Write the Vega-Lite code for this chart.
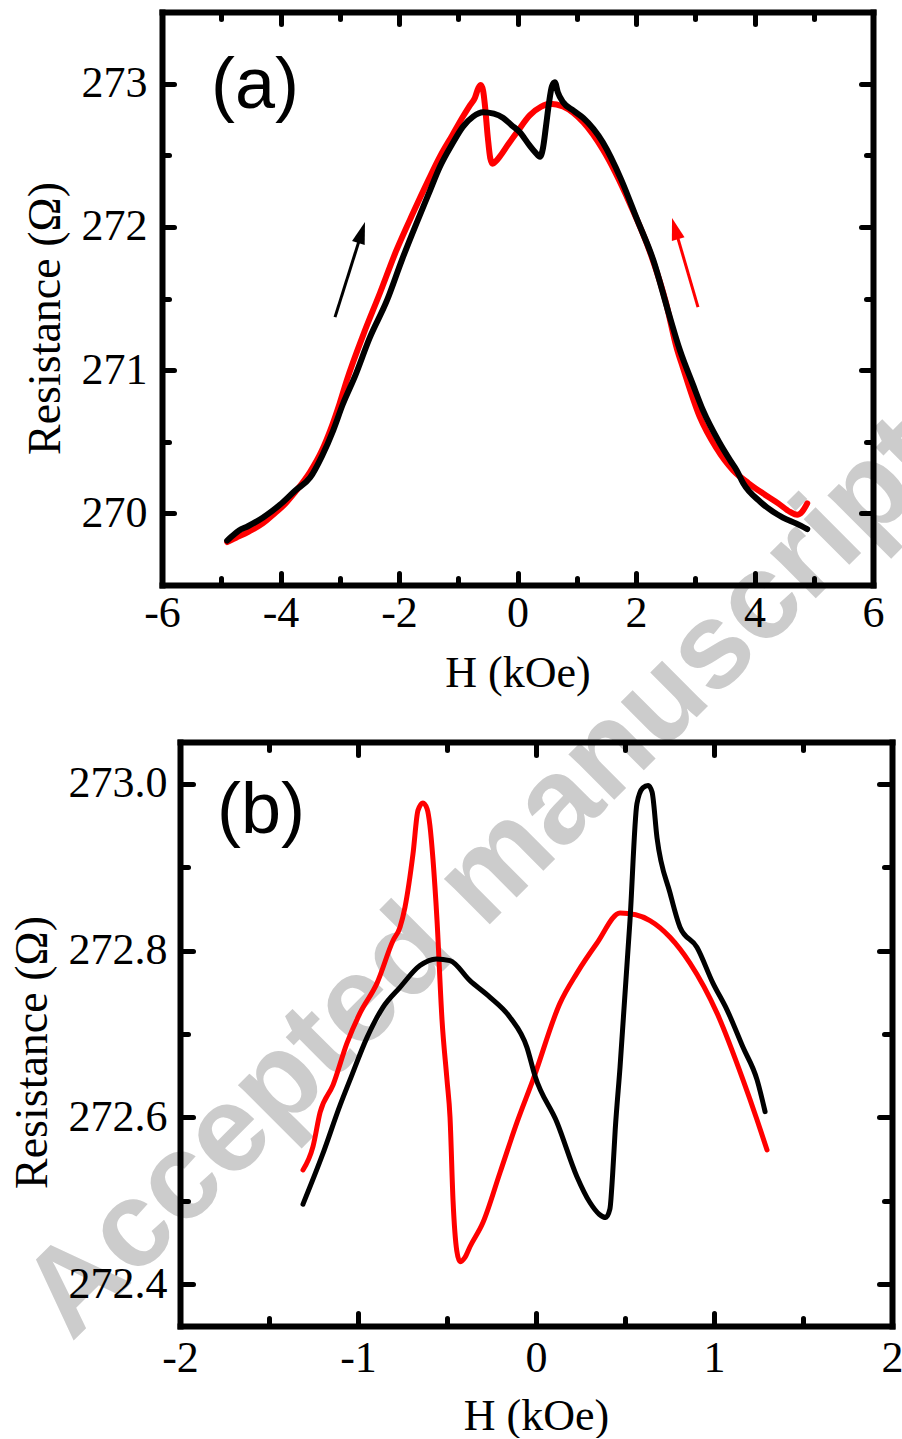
{
  "$schema": "https://vega.github.io/schema/vega-lite/v6.json",
  "background": "white",
  "padding": {"left": 2, "top": 9, "right": 0, "bottom": 0},
  "autosize": {"type": "pad"},
  "config": {
    "view": {"stroke": null},
    "axis": {
      "domainColor": "black", "domainWidth": 6, "domainCap": "square",
      "tickColor": "black", "tickWidth": 5, "tickCap": "round",
      "labelFont": "Liberation Serif", "labelFontSize": 44, "labelColor": "black",
      "titleFont": "Liberation Serif", "titleFontSize": 44, "titleFontWeight": "normal", "titleColor": "black",
      "grid": false, "labelFlush": false, "labelOverlap": false, "labelBound": false, "zindex": 1
    }
  },
  "datasets": {
    "panelA": [
      {"trace":"red","H":-4.90,"R":269.80},{"trace":"red","H":-4.75,"R":269.83},{"trace":"red","H":-4.55,"R":269.87},{"trace":"red","H":-4.30,"R":269.93},{"trace":"red","H":-4.10,"R":270.00},{"trace":"red","H":-3.96,"R":270.05},{"trace":"red","H":-3.75,"R":270.15},{"trace":"red","H":-3.50,"R":270.29},{"trace":"red","H":-3.30,"R":270.44},{"trace":"red","H":-3.16,"R":270.58},{"trace":"red","H":-3.00,"R":270.77},{"trace":"red","H":-2.88,"R":270.93},{"trace":"red","H":-2.60,"R":271.25},{"trace":"red","H":-2.32,"R":271.54},{"trace":"red","H":-2.05,"R":271.83},{"trace":"red","H":-1.76,"R":272.10},{"trace":"red","H":-1.50,"R":272.33},{"trace":"red","H":-1.31,"R":272.49},{"trace":"red","H":-1.10,"R":272.64},{"trace":"red","H":-0.92,"R":272.77},{"trace":"red","H":-0.80,"R":272.85},{"trace":"red","H":-0.72,"R":272.90},{"trace":"red","H":-0.66,"R":272.97},{"trace":"red","H":-0.62,"R":272.99},{"trace":"red","H":-0.58,"R":272.95},{"trace":"red","H":-0.55,"R":272.85},{"trace":"red","H":-0.50,"R":272.62},{"trace":"red","H":-0.46,"R":272.48},{"trace":"red","H":-0.42,"R":272.44},{"trace":"red","H":-0.36,"R":272.46},{"trace":"red","H":-0.30,"R":272.49},{"trace":"red","H":-0.15,"R":272.58},{"trace":"red","H":-0.01,"R":272.66},{"trace":"red","H":0.21,"R":272.78},{"trace":"red","H":0.40,"R":272.84},{"trace":"red","H":0.55,"R":272.86},{"trace":"red","H":0.77,"R":272.84},{"trace":"red","H":1.11,"R":272.73},{"trace":"red","H":1.44,"R":272.54},{"trace":"red","H":1.90,"R":272.16},{"trace":"red","H":2.24,"R":271.82},{"trace":"red","H":2.50,"R":271.48},{"trace":"red","H":2.69,"R":271.15},{"trace":"red","H":2.79,"R":271.02},{"trace":"red","H":3.08,"R":270.67},{"trace":"red","H":3.35,"R":270.46},{"trace":"red","H":3.64,"R":270.30},{"trace":"red","H":3.90,"R":270.21},{"trace":"red","H":4.14,"R":270.14},{"trace":"red","H":4.40,"R":270.07},{"trace":"red","H":4.60,"R":270.01},{"trace":"red","H":4.72,"R":269.99},{"trace":"red","H":4.80,"R":270.01},{"trace":"red","H":4.89,"R":270.07},
      {"trace":"black","H":-4.90,"R":269.81},{"trace":"black","H":-4.82,"R":269.84},{"trace":"black","H":-4.70,"R":269.88},{"trace":"black","H":-4.55,"R":269.91},{"trace":"black","H":-4.30,"R":269.97},{"trace":"black","H":-4.01,"R":270.06},{"trace":"black","H":-3.75,"R":270.16},{"trace":"black","H":-3.50,"R":270.25},{"trace":"black","H":-3.30,"R":270.40},{"trace":"black","H":-3.11,"R":270.58},{"trace":"black","H":-2.95,"R":270.76},{"trace":"black","H":-2.74,"R":270.96},{"trace":"black","H":-2.50,"R":271.22},{"trace":"black","H":-2.20,"R":271.49},{"trace":"black","H":-1.95,"R":271.77},{"trace":"black","H":-1.70,"R":272.03},{"trace":"black","H":-1.50,"R":272.23},{"trace":"black","H":-1.31,"R":272.42},{"trace":"black","H":-1.10,"R":272.58},{"trace":"black","H":-0.92,"R":272.70},{"trace":"black","H":-0.75,"R":272.77},{"trace":"black","H":-0.58,"R":272.80},{"trace":"black","H":-0.40,"R":272.79},{"trace":"black","H":-0.24,"R":272.76},{"trace":"black","H":-0.10,"R":272.71},{"trace":"black","H":0.04,"R":272.66},{"trace":"black","H":0.20,"R":272.57},{"trace":"black","H":0.30,"R":272.52},{"trace":"black","H":0.38,"R":272.49},{"trace":"black","H":0.43,"R":272.55},{"trace":"black","H":0.48,"R":272.70},{"trace":"black","H":0.53,"R":272.86},{"trace":"black","H":0.58,"R":272.98},{"trace":"black","H":0.63,"R":273.01},{"trace":"black","H":0.68,"R":272.94},{"trace":"black","H":0.77,"R":272.87},{"trace":"black","H":0.95,"R":272.81},{"trace":"black","H":1.11,"R":272.76},{"trace":"black","H":1.44,"R":272.59},{"trace":"black","H":1.75,"R":272.33},{"trace":"black","H":2.02,"R":272.05},{"trace":"black","H":2.29,"R":271.77},{"trace":"black","H":2.55,"R":271.40},{"trace":"black","H":2.74,"R":271.14},{"trace":"black","H":2.96,"R":270.90},{"trace":"black","H":3.13,"R":270.72},{"trace":"black","H":3.40,"R":270.50},{"trace":"black","H":3.59,"R":270.37},{"trace":"black","H":3.70,"R":270.30},{"trace":"black","H":3.81,"R":270.21},{"trace":"black","H":4.10,"R":270.08},{"trace":"black","H":4.48,"R":269.97},{"trace":"black","H":4.70,"R":269.93},{"trace":"black","H":4.89,"R":269.89}
    ],
    "panelB": [
      {"trace":"red","H":-1.309,"R":272.537},{"trace":"red","H":-1.253,"R":272.565},{"trace":"red","H":-1.213,"R":272.606},{"trace":"red","H":-1.14,"R":272.639},{"trace":"red","H":-1.062,"R":272.689},{"trace":"red","H":-0.989,"R":272.725},{"trace":"red","H":-0.893,"R":272.761},{"trace":"red","H":-0.803,"R":272.812},{"trace":"red","H":-0.764,"R":272.828},{"trace":"red","H":-0.736,"R":272.852},{"trace":"red","H":-0.691,"R":272.916},{"trace":"red","H":-0.663,"R":272.968},{"trace":"red","H":-0.635,"R":272.977},{"trace":"red","H":-0.612,"R":272.970},{"trace":"red","H":-0.596,"R":272.950},{"trace":"red","H":-0.579,"R":272.910},{"trace":"red","H":-0.556,"R":272.836},{"trace":"red","H":-0.528,"R":272.717},{"trace":"red","H":-0.500,"R":272.645},{"trace":"red","H":-0.483,"R":272.600},{"trace":"red","H":-0.466,"R":272.500},{"trace":"red","H":-0.445,"R":272.440},{"trace":"red","H":-0.427,"R":272.427},{"trace":"red","H":-0.400,"R":272.432},{"trace":"red","H":-0.371,"R":272.445},{"trace":"red","H":-0.298,"R":272.474},{"trace":"red","H":-0.202,"R":272.534},{"trace":"red","H":-0.107,"R":272.594},{"trace":"red","H":-0.017,"R":272.645},{"trace":"red","H":0.135,"R":272.737},{"trace":"red","H":0.230,"R":272.773},{"trace":"red","H":0.343,"R":272.809},{"trace":"red","H":0.472,"R":272.845},{"trace":"red","H":0.560,"R":272.843},{"trace":"red","H":0.640,"R":272.836},{"trace":"red","H":0.753,"R":272.816},{"trace":"red","H":0.865,"R":272.785},{"trace":"red","H":1.017,"R":272.725},{"trace":"red","H":1.163,"R":272.645},{"trace":"red","H":1.242,"R":272.597},{"trace":"red","H":1.298,"R":272.561},
      {"trace":"black","H":-1.309,"R":272.496},{"trace":"black","H":-1.20,"R":272.555},{"trace":"black","H":-1.10,"R":272.615},{"trace":"black","H":-1.045,"R":272.645},{"trace":"black","H":-0.949,"R":272.696},{"trace":"black","H":-0.860,"R":272.732},{"trace":"black","H":-0.764,"R":272.756},{"trace":"black","H":-0.652,"R":272.782},{"trace":"black","H":-0.560,"R":272.790},{"trace":"black","H":-0.483,"R":272.788},{"trace":"black","H":-0.371,"R":272.764},{"trace":"black","H":-0.258,"R":272.744},{"trace":"black","H":-0.146,"R":272.720},{"trace":"black","H":-0.051,"R":272.684},{"trace":"black","H":-0.006,"R":272.650},{"trace":"black","H":0.118,"R":272.594},{"trace":"black","H":0.230,"R":272.529},{"trace":"black","H":0.303,"R":272.498},{"trace":"black","H":0.355,"R":272.484},{"trace":"black","H":0.392,"R":272.480},{"trace":"black","H":0.415,"R":272.490},{"trace":"black","H":0.430,"R":272.530},{"trace":"black","H":0.445,"R":272.585},{"trace":"black","H":0.472,"R":272.660},{"trace":"black","H":0.528,"R":272.836},{"trace":"black","H":0.567,"R":272.976},{"trace":"black","H":0.600,"R":272.995},{"trace":"black","H":0.630,"R":272.998},{"trace":"black","H":0.652,"R":272.990},{"trace":"black","H":0.680,"R":272.935},{"trace":"black","H":0.753,"R":272.869},{"trace":"black","H":0.809,"R":272.828},{"trace":"black","H":0.904,"R":272.804},{"trace":"black","H":0.994,"R":272.761},{"trace":"black","H":1.073,"R":272.729},{"trace":"black","H":1.163,"R":272.684},{"trace":"black","H":1.242,"R":272.645},{"trace":"black","H":1.287,"R":272.607}
    ],
    "arrows": [
      {"trace":"black","H":-3.08,"R":271.37,"H2":-2.624,"R2":271.968,"Ht":-2.574,"Rt":272.034},
      {"trace":"red","H":3.046,"R":271.44,"H2":2.655,"R2":271.995,"Ht":2.608,"Rt":272.062}
    ]
  },
  "vconcat": [
    {
      "width": 711,
      "height": 573,
      "resolve": {"axis": {"x": "independent", "y": "independent"}},
      "layer": [
        {
          "data": {"values": [{"H": -0.126, "R": 267.273, "label": "Accepted manuscript"}]},
          "mark": {"type": "text", "font": "Liberation Sans", "fontWeight": "bold", "fontSize": 122, "color": "#cccccc", "angle": -45, "align": "center", "baseline": "alphabetic"},
          "encoding": {
            "x": {"field": "H", "type": "quantitative", "scale": {"domain": [-6, 6], "nice": false, "zero": false}, "axis": null},
            "y": {"field": "R", "type": "quantitative", "scale": {"domain": [269.5, 273.5], "nice": false, "zero": false}, "axis": null},
            "text": {"field": "label"}
          }
        },
        {
          "data": {"name": "panelA"},
          "transform": [{"filter": "datum.trace === 'red'"}],
          "mark": {"type": "line", "color": "#ff0000", "strokeWidth": 6, "interpolate": "monotone", "strokeCap": "round", "strokeJoin": "round"},
          "encoding": {
            "x": {"field": "H", "type": "quantitative", "scale": {"domain": [-6, 6], "nice": false, "zero": false},
              "axis": {"orient": "bottom", "zindex": 2, "values": [-6,-5,-4,-3,-2,-1,0,1,2,3,4,5,6],
                "tickSize": {"condition": {"test": "datum.value % 2 === 0", "value": -12}, "value": -7},
                "labelExpr": "datum.value % 2 === 0 ? '' + datum.value : ''",
                "labelPadding": 18, "title": "H (kOe)", "titlePadding": 11}},
            "y": {"field": "R", "type": "quantitative", "scale": {"domain": [269.5, 273.5], "nice": false, "zero": false},
              "axis": {"orient": "left", "zindex": 2, "values": [270, 270.5, 271, 271.5, 272, 272.5, 273],
                "tickSize": {"condition": {"test": "datum.value % 1 === 0", "value": -12}, "value": -7},
                "labelExpr": "datum.value % 1 === 0 ? '' + datum.value : ''",
                "labelPadding": 27, "title": "Resistance (Ω)", "titleFontSize": 46, "titlePadding": 12, "titleY": 306}},
            "order": {"field": "H", "type": "quantitative"}
          }
        },
        {
          "data": {"name": "panelA"},
          "transform": [{"filter": "datum.trace === 'black'"}],
          "mark": {"type": "line", "color": "#000000", "strokeWidth": 6, "interpolate": "monotone", "strokeCap": "round", "strokeJoin": "round"},
          "encoding": {
            "x": {"field": "H", "type": "quantitative", "scale": {"domain": [-6, 6], "nice": false, "zero": false},
              "axis": {"orient": "top", "zindex": 2, "values": [-5,-4,-3,-2,-1,0,1,2,3,4,5],
                "tickSize": {"condition": {"test": "datum.value % 2 === 0", "value": -12}, "value": -7},
                "labels": false, "title": null}},
            "y": {"field": "R", "type": "quantitative", "scale": {"domain": [269.5, 273.5], "nice": false, "zero": false},
              "axis": {"orient": "right", "zindex": 2, "values": [270, 270.5, 271, 271.5, 272, 272.5, 273],
                "tickSize": {"condition": {"test": "datum.value % 1 === 0", "value": -12}, "value": -7},
                "labels": false, "title": null}},
            "order": {"field": "H", "type": "quantitative"}
          }
        },
        {
          "data": {"name": "arrows"},
          "mark": {"type": "rule", "strokeWidth": 3, "strokeCap": "butt"},
          "encoding": {
            "x": {"field": "H", "type": "quantitative", "scale": {"domain": [-6, 6], "nice": false, "zero": false}, "axis": null},
            "y": {"field": "R", "type": "quantitative", "scale": {"domain": [269.5, 273.5], "nice": false, "zero": false}, "axis": null},
            "x2": {"field": "H2"},
            "y2": {"field": "R2"},
            "color": {"field": "trace", "type": "nominal", "scale": {"domain": ["red", "black"], "range": ["#ff0000", "#000000"]}, "legend": null}
          }
        },
        {
          "data": {"name": "arrows"},
          "transform": [{"filter": "datum.trace === 'black'"}],
          "mark": {"type": "point", "shape": "M0,0L0.3,1L-0.3,1Z", "size": 1936, "filled": true, "opacity": 1, "color": "#000000", "strokeWidth": 0, "angle": 17.5},
          "encoding": {
            "x": {"field": "Ht", "type": "quantitative", "scale": {"domain": [-6, 6], "nice": false, "zero": false}, "axis": null},
            "y": {"field": "Rt", "type": "quantitative", "scale": {"domain": [269.5, 273.5], "nice": false, "zero": false}, "axis": null}
          }
        },
        {
          "data": {"name": "arrows"},
          "transform": [{"filter": "datum.trace === 'red'"}],
          "mark": {"type": "point", "shape": "M0,0L0.3,1L-0.3,1Z", "size": 1936, "filled": true, "opacity": 1, "color": "#ff0000", "strokeWidth": 0, "angle": 343.7},
          "encoding": {
            "x": {"field": "Ht", "type": "quantitative", "scale": {"domain": [-6, 6], "nice": false, "zero": false}, "axis": null},
            "y": {"field": "Rt", "type": "quantitative", "scale": {"domain": [269.5, 273.5], "nice": false, "zero": false}, "axis": null}
          }
        },
        {
          "data": {"values": [{"H": -4.43, "R": 272.98, "label": "(a)"}]},
          "mark": {"type": "text", "font": "Liberation Sans", "fontSize": 72, "color": "black", "align": "center", "baseline": "middle"},
          "encoding": {
            "x": {"field": "H", "type": "quantitative", "scale": {"domain": [-6, 6], "nice": false, "zero": false}, "axis": null},
            "y": {"field": "R", "type": "quantitative", "scale": {"domain": [269.5, 273.5], "nice": false, "zero": false}, "axis": null},
            "text": {"field": "label"}
          }
        }
      ]
    },
    {
      "hconcat": [
        {
          "width": 1,
          "height": 584,
          "data": {"values": []},
          "mark": {"type": "point", "opacity": 0}
        },
        {
          "width": 712,
          "height": 584,
          "resolve": {"axis": {"x": "independent", "y": "independent"}},
          "layer": [
            {
              "data": {"name": "panelB"},
              "transform": [{"filter": "datum.trace === 'red'"}],
              "mark": {"type": "line", "color": "#ff0000", "strokeWidth": 5, "interpolate": "monotone", "strokeCap": "round", "strokeJoin": "round"},
              "encoding": {
                "x": {"field": "H", "type": "quantitative", "scale": {"domain": [-2, 2], "nice": false, "zero": false},
                  "axis": {"orient": "bottom", "values": [-2,-1.5,-1,-0.5,0,0.5,1,1.5,2],
                    "tickSize": {"condition": {"test": "datum.value % 1 === 0", "value": -13}, "value": -8},
                    "labelExpr": "datum.value % 1 === 0 ? '' + datum.value : ''",
                    "labelPadding": 23, "title": "H (kOe)", "titlePadding": 9}},
                "y": {"field": "R", "type": "quantitative", "scale": {"domain": [272.35, 273.05], "nice": false, "zero": false},
                  "axis": {"orient": "left", "values": [272.4, 272.5, 272.6, 272.7, 272.8, 272.9, 273.0],
                    "tickSize": {"condition": {"test": "round(datum.value * 10) % 2 === 0", "value": -13}, "value": -8},
                    "labelExpr": "round(datum.value * 10) % 2 === 0 ? format(datum.value, '.1f') : ''",
                    "labelPadding": 26, "title": "Resistance (Ω)", "titleFontSize": 46, "titlePadding": 12, "titleY": 310}},
                "order": {"field": "H", "type": "quantitative"}
              }
            },
            {
              "data": {"name": "panelB"},
              "transform": [{"filter": "datum.trace === 'black'"}],
              "mark": {"type": "line", "color": "#000000", "strokeWidth": 5, "interpolate": "monotone", "strokeCap": "round", "strokeJoin": "round"},
              "encoding": {
                "x": {"field": "H", "type": "quantitative", "scale": {"domain": [-2, 2], "nice": false, "zero": false},
                  "axis": {"orient": "top", "values": [-1.5,-1,-0.5,0,0.5,1,1.5],
                    "tickSize": {"condition": {"test": "datum.value % 1 === 0", "value": -13}, "value": -8},
                    "labels": false, "title": null}},
                "y": {"field": "R", "type": "quantitative", "scale": {"domain": [272.35, 273.05], "nice": false, "zero": false},
                  "axis": {"orient": "right", "values": [272.4, 272.5, 272.6, 272.7, 272.8, 272.9, 273.0],
                    "tickSize": {"condition": {"test": "round(datum.value * 10) % 2 === 0", "value": -13}, "value": -8},
                    "labels": false, "title": null}},
                "order": {"field": "H", "type": "quantitative"}
              }
            },
            {
              "data": {"values": [{"H": -1.545, "R": 272.967, "label": "(b)"}]},
              "mark": {"type": "text", "font": "Liberation Sans", "fontSize": 72, "color": "black", "align": "center", "baseline": "middle"},
              "encoding": {
                "x": {"field": "H", "type": "quantitative", "scale": {"domain": [-2, 2], "nice": false, "zero": false}, "axis": null},
                "y": {"field": "R", "type": "quantitative", "scale": {"domain": [272.35, 273.05], "nice": false, "zero": false}, "axis": null},
                "text": {"field": "label"}
              }
            }
          ]
        }
      ],
      "spacing": 17,
      "bounds": "flush"
    }
  ],
  "spacing": 157,
  "bounds": "flush"
}
